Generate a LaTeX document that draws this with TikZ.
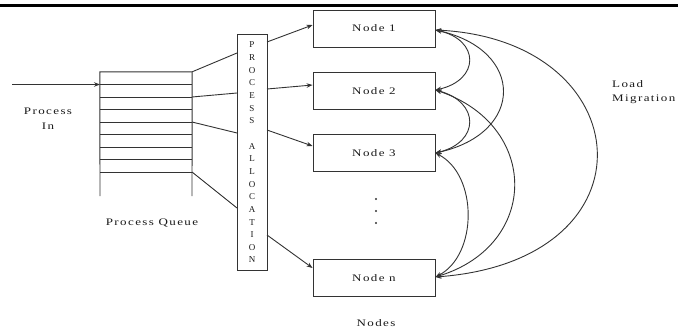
\documentclass[tikz,border=0pt]{standalone}
\usepackage{fontspec}
\usetikzlibrary{arrows.meta}
\newfontfamily\lbl[FakeStretch=1.3,LetterSpace=14]{Liberation Serif}
\newfontfamily\lblv{Liberation Serif}
\begin{document}
\begin{tikzpicture}[x=1pt,y=-1pt,
  line/.style={draw=black!80,line width=0.9pt},
  tip/.style={-{Stealth[length=6pt,width=4.5pt]}},
  bitip/.style={{Stealth[length=6pt,width=4.5pt]}-{Stealth[length=6pt,width=4.5pt]}},
  nodebox/.style={line,rectangle,minimum width=122pt,minimum height=37pt,inner sep=0pt,font=\lbl\fontsize{10}{11}\selectfont,text=black!90},
  lab/.style={font=\lbl\fontsize{10}{11}\selectfont,text=black!90,inner sep=0pt,align=center},
  vlab/.style={font=\lblv\fontsize{9}{10}\selectfont,text=black!90,inner sep=0pt}]
\useasboundingbox (0,0) rectangle (678,332);
% rule across the top
\draw[line width=3pt] (0,5.5) -- (678,5.5);

% process queue: open at the bottom
\node[inner sep=0pt,minimum width=92pt,minimum height=100pt] (q) at (146,122) {};
\draw[line] (100,196) -- (q.north west) -- (q.north east) -- (192,196);
\foreach \k in {1,...,8}
  \draw[line] (100,72+12.5*\k) -- (192,72+12.5*\k);
\coordinate (qin) at (100,84.5);
\coordinate (q1) at (q.north east);
\coordinate (q2) at (192,97);
\coordinate (q3) at (192,122);
\coordinate (q4) at (192,172);

% incoming processes
\coordinate (pin) at (12,84.5);
\draw[line,tip] (pin) -- (qin);
\node[lab] (tin) at (48,118.5) {Process\\[4pt]In};
\node[lab] (tq) at (152,223) {Process Queue};

% process allocation column
\node[line,rectangle,minimum width=30pt,minimum height=236pt,inner sep=0pt] (alloc) at (252,152) {};
\foreach \ch [count=\i from 0] in {P,R,O,C,E,S,S,{},A,L,L,O,C,A,T,I,O,N}
  \node[vlab] (al\i) at (252,45+12.65*\i) {\ch};

\coordinate (a1) at (237,53);
\coordinate (a2) at (237,93);
\coordinate (a3) at (237,133);
\coordinate (a4) at (237,208);
\draw[line] (q1) -- (a1);
\draw[line] (q2) -- (a2);
\draw[line] (q3) -- (a3);
\draw[line] (q4) -- (a4);

% processing nodes
\node[nodebox] (n1) at (374,28.5) {Node 1};
\node[nodebox] (n2) at (374,91) {Node 2};
\node[nodebox] (n3) at (374,153) {Node 3};
\node[nodebox] (nn) at (374,278) {Node n};
\fill[black!80] (376,199) circle (1.2pt) (376,211) circle (1.2pt) (376,223) circle (1.2pt);
\node[lab] (tn) at (376,323) {Nodes};

\coordinate (b1) at (267,42);
\coordinate (b2) at (267,89);
\coordinate (b3) at (267,130);
\coordinate (b4) at (267,235);
\draw[line,tip] (b1) -- (n1.west |- 0,25);
\draw[line,tip] (b2) -- (n2.west |- 0,85);
\draw[line,tip] (b3) -- (n3.west |- 0,146);
\draw[line,tip] (b4) -- (nn.west |- 0,268);

% load migration between nodes
\coordinate (r1) at (n1.east |- 0,30);
\coordinate (r2) at (n2.east |- 0,90);
\coordinate (r3) at (n3.east |- 0,153);
\coordinate (rn) at (nn.east |- 0,277);
\draw[line,bitip] (r1) .. controls (480,40) and (480,80) .. (r2);
\draw[line,bitip] (r2) .. controls (480,102) and (480,142) .. (r3);
\draw[line,bitip] (r1) .. controls (525,50) and (525,133) .. (r3);
\draw[line,bitip] (r3) .. controls (478,175) and (478,255) .. (rn);
\draw[line,bitip] (r2) .. controls (540,125) and (540,245) .. (rn);
\draw[line,bitip] (r1) .. controls (640,40) and (660,260) .. (rn);
\node[lab,align=left,anchor=west] (tl) at (612,92.5) {Load\\[3pt]Migration};
\end{tikzpicture}
\end{document}
